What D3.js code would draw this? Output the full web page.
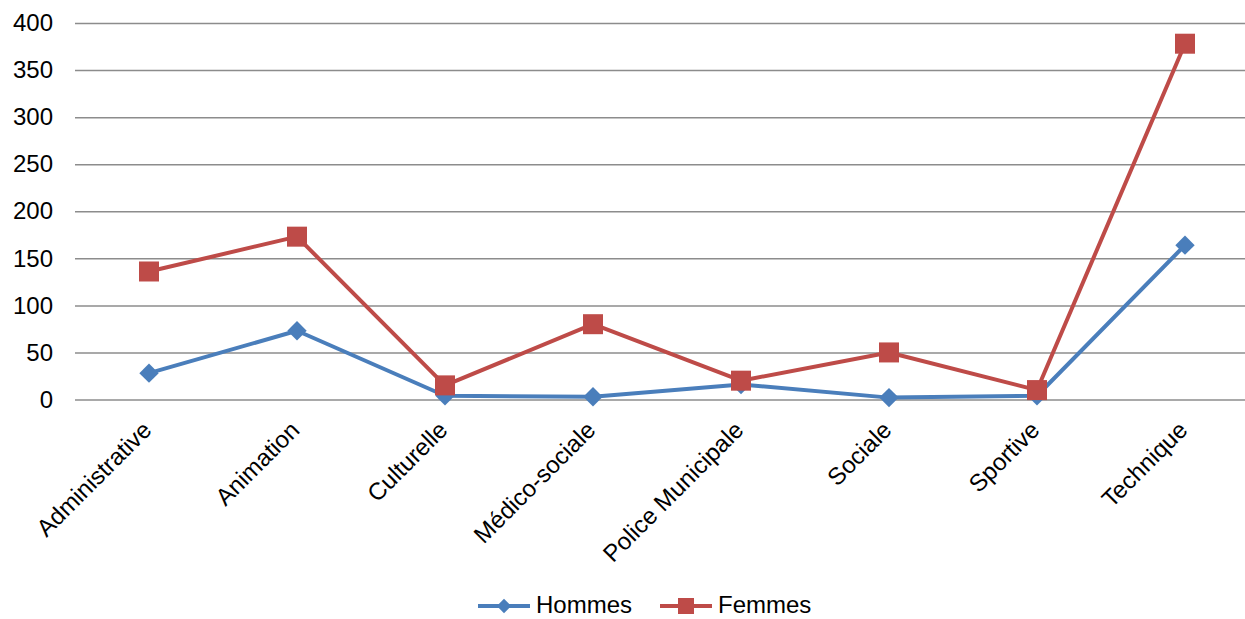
<!DOCTYPE html>
<html><head><meta charset="utf-8">
<script src="https://cdn.jsdelivr.net/npm/d3@7"></script>
<style>body{margin:0;background:#fff}svg{display:block}text{font-family:"Liberation Sans",Arial,sans-serif;fill:#000}</style>
</head><body><svg id="c" width="1245" height="619"></svg>
<script>
const categories = ["Administrative","Animation","Culturelle","Médico-sociale","Police Municipale","Sociale","Sportive","Technique"];
const hommes = [28,73,4,3,16,2,4,164];
const femmes = [136,173,15,80,20,50,10,378];
const yTicks = [0,50,100,150,200,250,300,350,400];
const seriesNames = ["Hommes","Femmes"];

(function(){
const svg = d3.select("#c");
const pL = 75, pR = 1259, pT = 23, pB = 399.5;
const FS = 24;
const x = d3.scaleBand().domain(categories).range([pL, pR]);
const y = d3.scaleLinear().domain([0,400]).range([pB, pT]);
const cx = d => x(d) + x.bandwidth()/2;

const yAxis = svg.append("g").attr("transform",`translate(${pL},0)`)
  .call(d3.axisLeft(y).tickValues(yTicks).tickSize(-(pR-pL)).tickPadding(22));
yAxis.select(".domain").remove();
yAxis.selectAll(".tick line").attr("stroke","#8c8c8c").attr("stroke-width",1.5);
yAxis.selectAll(".tick text").attr("font-size",FS).attr("font-family","Liberation Sans, Arial, sans-serif").attr("fill","#000");

const xAxis = svg.append("g").attr("transform",`translate(0,${pB})`)
  .call(d3.axisBottom(x).tickSize(0).tickPadding(0));
xAxis.select(".domain").remove();
xAxis.selectAll(".tick text")
  .attr("font-size",FS).attr("font-family","Liberation Sans, Arial, sans-serif").attr("fill","#000")
  .attr("text-anchor","end").attr("dy",0).attr("y",0)
  .attr("transform","translate(4,32) rotate(-45)");

const line = d3.line().x((d,i)=>cx(categories[i])).y(d=>y(d));
const colors = ["#4a7ebb","#be4b48"];
[hommes,femmes].forEach((s,k)=>{
  svg.append("path").datum(s).attr("d",line).attr("fill","none")
    .attr("stroke",colors[k]).attr("stroke-width",4).attr("stroke-linejoin","round");
});
svg.append("g").selectAll("path").data(hommes).join("path")
  .attr("transform",(d,i)=>`translate(${cx(categories[i])},${y(d)})`)
  .attr("d",d3.symbol(d3.symbolDiamond2, 240)).attr("fill",colors[0]);
svg.append("g").selectAll("rect").data(femmes).join("rect")
  .attr("x",(d,i)=>cx(categories[i])-10).attr("y",d=>y(d)-10)
  .attr("width",20).attr("height",20).attr("fill",colors[1]);

const lg = svg.append("g");
const legX = [478, 660];
seriesNames.forEach((n,k)=>{
  const g = lg.append("g").attr("transform",`translate(${legX[k]},606)`);
  g.append("line").attr("x1",0).attr("x2",52).attr("stroke",colors[k]).attr("stroke-width",4);
  if(k===0) g.append("path").attr("transform","translate(26,0)").attr("d",d3.symbol(d3.symbolDiamond2,130)).attr("fill",colors[0]);
  else g.append("rect").attr("x",18).attr("y",-8).attr("width",16).attr("height",16).attr("fill",colors[1]);
  g.append("text").attr("x",58).attr("y",7).attr("font-size",FS).text(n);
});
})();
</script></body></html>
